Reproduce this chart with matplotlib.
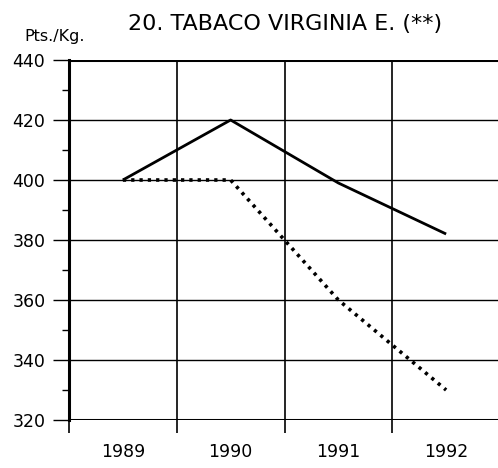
import matplotlib
matplotlib.use("Agg")
import matplotlib.pyplot as plt
from matplotlib.ticker import MultipleLocator, FixedLocator

plt.rcParams['font.family'] = ['DejaVu Sans']

years = ['1989', '1990', '1991', '1992']
solid_vals = [400, 420, 399, 382]
dotted_vals = [400, 400, 360, 330]
y_ticks = [320, 340, 360, 380, 400, 420, 440]

fig = plt.figure(figsize=(4.98, 4.68), dpi=100)
W, H = 498, 468
left, right, top, bottom = 69, 500, 60, 420
ax = fig.add_axes([left / W, 1 - bottom / H, (right - left) / W, (bottom - top) / H])

x = list(range(len(years)))
ax.set_xlim(-0.5, len(years) - 0.5)
ax.set_ylim(320, 440)

# grid
for yv in y_ticks:
    lw = 2.2 if yv in (320, 440) else 1.0
    ax.axhline(yv, color='black', lw=lw, zorder=1)
for b in [i + 0.5 for i in range(len(years) - 1)]:
    ax.axvline(b, color='black', lw=1.2, zorder=1)

ax.plot(x, solid_vals, color='black', lw=2.0, solid_capstyle='butt', zorder=3)
ax.plot(x, dotted_vals, color='black', lw=2.6, linestyle=(0, (0.9, 1.4)), zorder=3)

for s in ['top', 'right']:
    ax.spines[s].set_visible(False)
ax.spines['bottom'].set_visible(False)
ax.spines['left'].set_linewidth(2.2)

ax.set_yticks(y_ticks)
ax.yaxis.set_minor_locator(MultipleLocator(10))
ax.tick_params(axis='y', which='major', length=11.5, width=1.0, labelsize=12.5, pad=5.5)
ax.tick_params(axis='y', which='minor', length=5, width=1.0)

ax.xaxis.set_major_locator(FixedLocator(x))
ax.set_xticklabels(years)
ax.xaxis.set_minor_locator(FixedLocator([-0.5] + [i + 0.5 for i in range(len(years) - 1)]))
ax.tick_params(axis='x', which='major', length=0, labelsize=12.5, pad=16.5)
ax.tick_params(axis='x', which='minor', length=9.4, width=1.2)

fig.text(285 / W, 1 - 24 / H, '20. TABACO VIRGINIA E. (**)', ha='center', va='center', fontsize=16)
fig.text(24 / W, 1 - 36 / H, 'Pts./Kg.', ha='left', va='center', fontsize=11.5)

fig.savefig('out.png', dpi=100)
